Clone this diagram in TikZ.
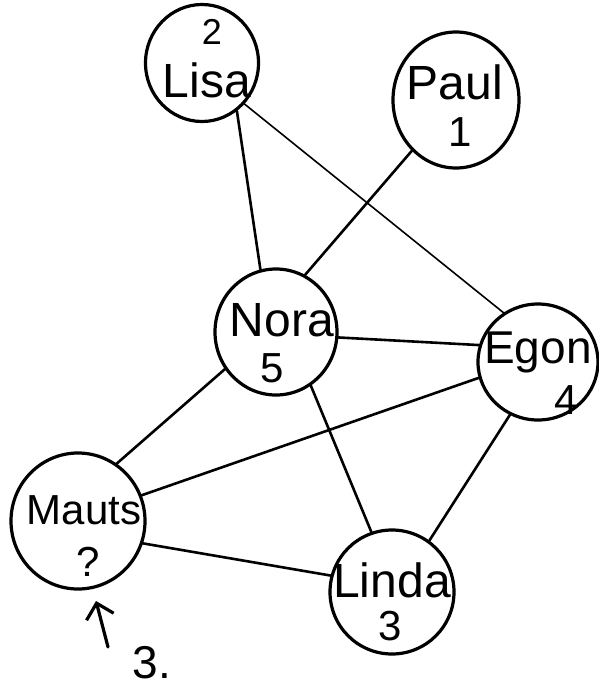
\documentclass[tikz,border=0pt]{standalone}
\usepackage{fontspec}
\setmainfont{Liberation Sans}
\usetikzlibrary{shapes.geometric,arrows.meta}
\begin{document}
\begin{tikzpicture}[x=1pt,y=-1pt,
  person/.style={ellipse,draw=black,line width=3.2pt,inner sep=0pt},
  pname/.style={font=\fontsize{48}{48}\selectfont,inner sep=0pt},
  pnum/.style={font=\fontsize{42}{42}\selectfont,inner sep=0pt},
  conn/.style={draw=black,line width=2.6pt,line cap=round}]
\useasboundingbox (0,0) rectangle (598,691);
% circles
\node[person,minimum width=113,minimum height=117] (lisa) at (202,63) {};
\node[person,minimum width=126,minimum height=136] (paul) at (456,100) {};
\node[person,minimum width=122,minimum height=126] (nora) at (276,332) {};
\node[person,minimum width=120,minimum height=116] (egon) at (538,362) {};
\node[person,minimum width=134,minimum height=136] (mauts) at (78,521) {};
\node[person,minimum width=124,minimum height=124] (linda) at (392,592) {};
% texts
\node[pnum,font=\fontsize{36}{36}\selectfont] (lisan) at (212,32) {2};
\node[pname] (lisat) at (207,80) {Lisa};
\node[pname] (pault) at (455,82) {Paul};
\node[pnum] (pauln) at (460,132) {1};
\node[pname] (norat) at (282,320) {Nora};
\node[pnum] (noran) at (272,368) {5};
\node[pname,font=\fontsize{46}{46}\selectfont] (egont) at (538,352) {Egon};
\node[pnum] (egonn) at (566,400) {4};
\node[pname,font=\fontsize{42}{42}\selectfont] (mautst) at (84,510) {Mauts};
\node[pnum] (mautsn) at (88,562) {?};
\node[pname] (lindat) at (392,580) {Linda};
\node[pnum] (lindan) at (390,626) {3};
% edges
\draw[conn] (lisa.-54) -- (nora.104);
\draw[conn,line width=1.6pt] (lisa.-44) -- (egon.125);
\draw[conn] (paul.-131) -- (nora.63);
\draw[conn] (nora.-5) -- (egon.164);
\draw[conn] (nora.-144) -- (mauts.56);
\draw[conn] (nora.-57) -- (linda.109);
\draw[conn] (egon.-165) -- (mauts.22);
\draw[conn] (egon.-118) -- (linda.54);
\draw[conn] (mauts.-19) -- (linda.165);
% arrow
\coordinate (arrs) at (108,647);
\coordinate (arrt) at (96,601);
\draw[conn,line width=3.2pt,-{Straight Barb[length=14pt,width=28pt,line width=3.2pt]}] (arrs) -- (arrt);
\node[pnum,font=\fontsize{46}{46}\selectfont] (three) at (152,663) {3.};
\end{tikzpicture}
\end{document}
